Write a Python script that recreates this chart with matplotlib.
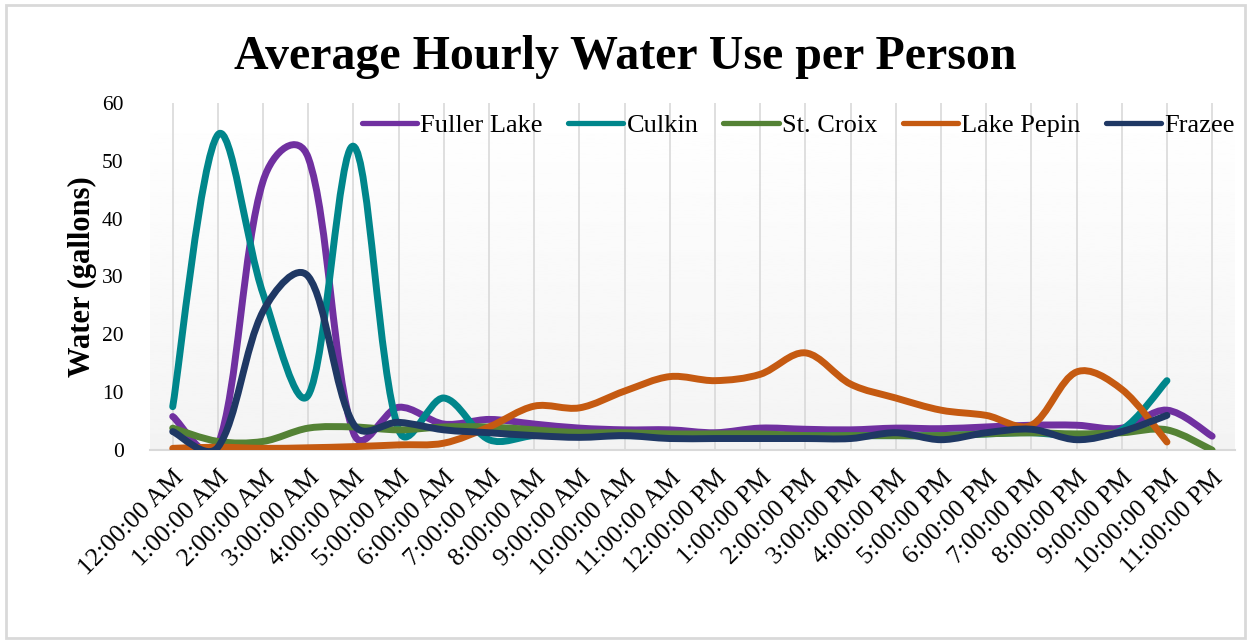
import numpy as np
import matplotlib.pyplot as plt
from matplotlib.path import Path
from matplotlib.patches import PathPatch, Rectangle
from matplotlib.lines import Line2D

hours = ['12:00:00 AM', '1:00:00 AM', '2:00:00 AM', '3:00:00 AM', '4:00:00 AM',
         '5:00:00 AM', '6:00:00 AM', '7:00:00 AM', '8:00:00 AM', '9:00:00 AM',
         '10:00:00 AM', '11:00:00 AM', '12:00:00 PM', '1:00:00 PM', '2:00:00 PM',
         '3:00:00 PM', '4:00:00 PM', '5:00:00 PM', '6:00:00 PM', '7:00:00 PM',
         '8:00:00 PM', '9:00:00 PM', '10:00:00 PM', '11:00:00 PM']

fuller_lake = [5.8, 0.8, 46.5, 50.5, 3.0, 7.4, 4.5, 5.3, 4.5, 3.8, 3.5, 3.5,
               3.0, 3.8, 3.6, 3.5, 3.8, 3.7, 4.0, 4.3, 4.3, 3.8, 6.9, 2.4]
culkin = [7.5, 54.5, 27, 9.5, 52.5, 3.5, 9.0, 1.8, 2.5, 2.5, 2.5, 2.5,
          2.5, 2.5, 2.5, 2.5, 2.5, 2.5, 2.8, 3.0, 2.5, 3.5, 12.0]
st_croix = [3.8, 1.5, 1.5, 3.8, 4.0, 3.5, 4.0, 4.0, 3.5, 3.0, 3.0, 2.8,
            2.8, 2.8, 2.5, 2.5, 2.5, 2.5, 2.8, 3.0, 2.8, 3.0, 3.5, 0.0]
lake_pepin = [0.3, 0.5, 0.3, 0.4, 0.6, 0.9, 1.2, 4.0, 7.6, 7.3, 10.2, 12.7,
              12.0, 13.1, 16.8, 11.4, 9.0, 6.9, 6.0, 4.3, 13.5, 10.5, 1.4]
frazee = [3.2, 0.5, 24, 30.0, 4.5, 4.8, 3.5, 3.0, 2.5, 2.2, 2.5, 2.0,
          2.0, 2.0, 2.0, 2.0, 3.0, 1.8, 3.0, 3.6, 1.8, 3.2, 6.0]

series = [('Fuller Lake', fuller_lake, '#7030a0'),
          ('Culkin', culkin, '#00868b'),
          ('St. Croix', st_croix, '#548235'),
          ('Lake Pepin', lake_pepin, '#c55a11'),
          ('Frazee', frazee, '#1f3864')]

plt.rcParams['font.family'] = ['Liberation Serif', 'DejaVu Serif']

# rough pixel size of one x step / one y unit, used to weight the smoothing
SX, SY = 45.2, 5.78


def smooth_path(ys):
    # Excel-like smoothed line: bezier segments, tangents partly scaled by segment length
    xs = np.arange(len(ys), dtype=float)
    ys = np.asarray(ys, dtype=float)
    n = len(xs)
    pts = np.column_stack([xs, ys])

    def d(a, b):
        return np.hypot((pts[a, 0] - pts[b, 0]) * SX, (pts[a, 1] - pts[b, 1]) * SY)

    verts = [tuple(pts[0])]
    codes = [Path.MOVETO]
    for i in range(n - 1):
        p0 = i - 1 if i > 0 else i
        p3 = i + 2 if i + 2 < n else i + 1
        d01, d12, d23 = d(p0, i), d(i, i + 1), d(i + 1, p3)
        w1 = 0.25 + 0.5 * d12 / (d01 + d12) if d01 > 0 else 0.5
        w2 = 0.25 + 0.5 * d12 / (d12 + d23) if d23 > 0 else 0.5
        c1 = pts[i] + (pts[i + 1] - pts[p0]) * w1 / 3
        c2 = pts[i + 1] - (pts[p3] - pts[i]) * w2 / 3
        verts += [tuple(c1), tuple(c2), tuple(pts[i + 1])]
        codes += [Path.CURVE4] * 3
    return Path(verts, codes)


fig = plt.figure(figsize=(12.51, 6.43), dpi=100)
ax = fig.add_axes([0.12, 0.30, 0.867, 0.54])

# subtle gradient background of the plot area
grad = np.linspace(1.0, 0.955, 256).reshape(-1, 1)
ax.imshow(grad, cmap='gray', vmin=0, vmax=1, aspect='auto',
          extent=[-0.5, len(hours) - 0.5, 0, 60], zorder=0)

for x in range(len(hours)):
    ax.axvline(x, color='#d9d9d9', lw=1.2, zorder=1)

handles = []
for name, vals, color in series:
    patch = PathPatch(smooth_path(vals), facecolor='none', edgecolor=color,
                      lw=5, capstyle='round', joinstyle='round', zorder=3)
    ax.add_patch(patch)
    handles.append(Line2D([], [], color=color, lw=3.8, solid_capstyle='round'))

ax.set_xlim(-0.5, len(hours) - 0.5)
ax.set_ylim(0, 60)
ax.set_xticks(range(len(hours)))
ax.set_xticklabels(hours, rotation=45, ha='right', rotation_mode='anchor',
                   fontsize=18.5)
ax.set_yticks(range(0, 61, 10))
ax.tick_params(axis='y', labelsize=15.5, length=0, pad=19)
ax.tick_params(axis='x', length=0, pad=12)
for s in ['top', 'right', 'left']:
    ax.spines[s].set_visible(False)
ax.spines['bottom'].set_color('#d9d9d9')
ax.spines['bottom'].set_linewidth(1.5)

ax.set_ylabel('Water (gallons)', fontsize=22, fontweight='bold', labelpad=4)
fig.suptitle('Average Hourly Water Use per Person', fontsize=34.5,
             fontweight='bold', y=0.945)

ax.legend(handles, [s[0] for s in series], loc='center right', ncol=5,
          frameon=False, fontsize=19, handlelength=2.1, handletextpad=0.12,
          columnspacing=0.95, borderaxespad=0, borderpad=0,
          bbox_to_anchor=(1.0, 0.935))

fig.add_artist(Rectangle((0.005, 0.008), 0.99, 0.985, transform=fig.transFigure,
                         fill=False, edgecolor='#d9d9d9', lw=2))

plt.savefig('out.png', dpi=100)
